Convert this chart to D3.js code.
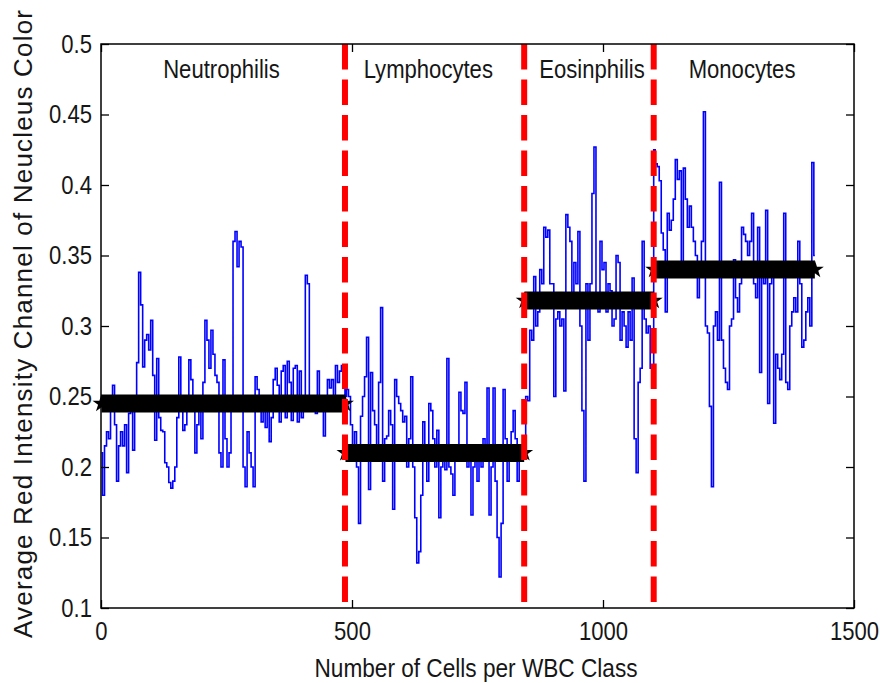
<!DOCTYPE html>
<html>
<head>
<meta charset="utf-8">
<script src="https://cdn.jsdelivr.net/npm/d3@7"></script>
<style>
  html, body { margin: 0; padding: 0; background: #fff; }
  svg { display: block; }
  text { font-family: "Liberation Sans", Arial, Helvetica, sans-serif; fill: #161616; }
</style>
</head>
<body>
<svg id="chart" width="880" height="683"></svg>
<script>
// WBC classes, how many cells each holds, and the class mean of the red channel
const classNames = ["Neutrophilis", "Lymphocytes", "Eosinphilis", "Monocytes"];
const classSizes = [486, 357, 258, 321];
const classMeans = [0.245, 0.210, 0.318, 0.340];

// per-cell averages, one value for every 4th cell of each class
const sampleStep = 4;
const neutrophilValues = [
  0.21, 0.18, 0.215, 0.225, 0.22, 0.24, 0.258, 0.23, 0.19, 0.215,
  0.225, 0.215, 0.23, 0.196, 0.238, 0.245, 0.212, 0.25, 0.274, 0.338,
  0.315, 0.271, 0.29, 0.294, 0.283, 0.304, 0.265, 0.219, 0.277, 0.235,
  0.226, 0.225, 0.203, 0.2, 0.189, 0.185, 0.19, 0.2, 0.235, 0.278,
  0.25, 0.226, 0.23, 0.245, 0.276, 0.262, 0.24, 0.21, 0.23, 0.24,
  0.22, 0.26, 0.304, 0.29, 0.27, 0.297, 0.28, 0.265, 0.26, 0.21,
  0.2, 0.276, 0.22, 0.2, 0.21, 0.25, 0.36, 0.367, 0.342, 0.36,
  0.356, 0.2, 0.186, 0.225, 0.21, 0.2, 0.186, 0.264, 0.255, 0.245,
  0.232, 0.24, 0.228, 0.245, 0.218, 0.235, 0.262, 0.27, 0.258, 0.232,
  0.268, 0.272, 0.235, 0.275, 0.26, 0.233, 0.27, 0.272, 0.232, 0.268,
  0.235, 0.25, 0.336, 0.33, 0.245, 0.242, 0.25, 0.238, 0.268, 0.24,
  0.25, 0.222, 0.248, 0.262, 0.256, 0.262, 0.25, 0.272, 0.26, 0.268,
  0.272, 0.262
];
const lymphocyteValues = [
  0.25, 0.255, 0.25, 0.23, 0.214, 0.225, 0.2, 0.16, 0.236, 0.25,
  0.264, 0.292, 0.184, 0.267, 0.24, 0.23, 0.21, 0.26, 0.313, 0.19,
  0.22, 0.222, 0.24, 0.23, 0.17, 0.262, 0.25, 0.245, 0.24, 0.232,
  0.236, 0.2, 0.22, 0.264, 0.2, 0.164, 0.132, 0.14, 0.18, 0.232,
  0.21, 0.19, 0.245, 0.24, 0.22, 0.2, 0.226, 0.164, 0.2, 0.205,
  0.198, 0.277, 0.2, 0.195, 0.18, 0.205, 0.215, 0.253, 0.24, 0.238,
  0.26, 0.2, 0.21, 0.166, 0.2, 0.215, 0.19, 0.21, 0.2, 0.22,
  0.21, 0.256, 0.166, 0.2, 0.256, 0.19, 0.15, 0.122, 0.16, 0.255,
  0.22, 0.19, 0.21, 0.225, 0.24, 0.22, 0.19, 0.215, 0.21
];
const eosinophilValues = [
  0.22, 0.25, 0.247, 0.297, 0.29, 0.335, 0.3, 0.31, 0.34, 0.33,
  0.37, 0.363, 0.368, 0.33, 0.33, 0.25, 0.305, 0.31, 0.3, 0.305,
  0.254, 0.379, 0.37, 0.36, 0.32, 0.345, 0.33, 0.367, 0.3, 0.24,
  0.19, 0.33, 0.29, 0.33, 0.394, 0.427, 0.32, 0.31, 0.36, 0.34,
  0.345, 0.31, 0.33, 0.325, 0.3, 0.305, 0.35, 0.345, 0.29, 0.31,
  0.3, 0.285, 0.31, 0.29, 0.334, 0.22, 0.196, 0.26, 0.27, 0.36,
  0.305, 0.295, 0.3, 0.27, 0.265
];
const monocyteValues = [
  0.425, 0.415, 0.413, 0.403, 0.366, 0.354, 0.31, 0.38, 0.368, 0.375,
  0.39, 0.418, 0.404, 0.41, 0.34, 0.412, 0.39, 0.37, 0.385, 0.37,
  0.36, 0.35, 0.32, 0.345, 0.36, 0.452, 0.3, 0.295, 0.243, 0.186,
  0.3, 0.31, 0.29, 0.402, 0.29, 0.27, 0.26, 0.255, 0.3, 0.305,
  0.347, 0.32, 0.31, 0.33, 0.37, 0.365, 0.36, 0.35, 0.36, 0.38,
  0.33, 0.32, 0.37, 0.267, 0.34, 0.33, 0.382, 0.245, 0.33, 0.34,
  0.231, 0.28, 0.27, 0.262, 0.28, 0.38, 0.26, 0.255, 0.3, 0.31,
  0.32, 0.31, 0.36, 0.33, 0.285, 0.29, 0.31, 0.32, 0.3, 0.416,
  0.35
];
const classValues = [neutrophilValues, lymphocyteValues, eosinophilValues, monocyteValues];

const xTicks = [0, 500, 1000, 1500];
const yTicks = [0.1, 0.15, 0.2, 0.25, 0.3, 0.35, 0.4, 0.45, 0.5];
const xTitle = "Number of Cells per WBC Class";
const yTitle = "Average Red Intensity Channel of Neucleus Color";

// ---- layout ----
const plot = { left: 101, right: 854, top: 44, bottom: 608 };
const labelCellX = [240, 652, 978, 1277];   // where each class name sits, in cell units
const textScaleX = 0.85;                     // narrow lettering

const svg = d3.select("#chart");
const x = d3.scaleLinear().domain([0, 1500]).range([plot.left, plot.right]);
const y = d3.scaleLinear().domain([0.1, 0.5]).range([plot.bottom, plot.top]);

// cumulative class boundaries in cell numbers
const starts = [0];
classSizes.forEach((n, i) => starts.push(starts[i] + n));

// every sampled cell as {cell, value}
const points = [];
classValues.forEach((vals, k) => {
  vals.forEach((v, i) => points.push({ cell: starts[k] + 1 + i * sampleStep, value: v }));
});

// per-cell trace
svg.append("path")
  .datum(points)
  .attr("fill", "none")
  .attr("stroke", "#0000ff")
  .attr("stroke-width", 1.6)
  .attr("d", d3.line().curve(d3.curveStep).x(d => x(d.cell)).y(d => y(d.value)));

// class mean bands
const bands = svg.append("g");
classMeans.forEach((m, k) => {
  const x0 = x(starts[k] + 1), x1 = x(starts[k + 1]);
  bands.append("line")
    .attr("x1", x0).attr("x2", x1)
    .attr("y1", y(m)).attr("y2", y(m))
    .attr("stroke", "#000").attr("stroke-width", 18);
  [x0, x1].forEach(cx => {
    bands.append("path")
      .attr("d", d3.symbol(d3.symbolStar, 100)())
      .attr("transform", `translate(${cx},${y(m)})`)
      .attr("fill", "#000");
  });
});

// dashed class boundaries
svg.append("g").selectAll("line")
  .data(starts.slice(1, classSizes.length))
  .join("line")
  .attr("x1", d => x(d)).attr("x2", d => x(d))
  .attr("y1", y(0.5)).attr("y2", y(0.1))
  .attr("stroke", "#ff0000")
  .attr("stroke-width", 6)
  .attr("stroke-dasharray", "25.5,10");

// frame
svg.append("rect")
  .attr("x", plot.left).attr("y", plot.top)
  .attr("width", plot.right - plot.left).attr("height", plot.bottom - plot.top)
  .attr("fill", "none").attr("stroke", "#000").attr("stroke-width", 1.5);

// axes with inward ticks on all four sides
function styleAxis(g) {
  g.select(".domain").remove();
  g.selectAll(".tick line").attr("stroke", "#000").attr("stroke-width", 1.3);
  g.selectAll("text").style("font-size", "26px").attr("fill", "#161616");
}
const gx = svg.append("g").attr("transform", `translate(0,${plot.bottom})`)
  .call(d3.axisBottom(x).tickValues(xTicks).tickFormat(d3.format("d"))
    .tickSizeInner(-8).tickSizeOuter(0).tickPadding(14))
  .call(styleAxis);
gx.selectAll("text").attr("transform", `scale(${textScaleX},1)`);

const gy = svg.append("g").attr("transform", `translate(${plot.left},0)`)
  .call(d3.axisLeft(y).tickValues(yTicks).tickFormat(d => String(+d.toFixed(2)))
    .tickSizeInner(-8).tickSizeOuter(0).tickPadding(9))
  .call(styleAxis);
gy.selectAll("text")
  .attr("x", -9 / textScaleX)
  .attr("transform", `scale(${textScaleX},1)`);

svg.append("g").attr("transform", `translate(0,${plot.top})`)
  .call(d3.axisTop(x).tickValues(xTicks).tickFormat("").tickSizeInner(-8).tickSizeOuter(0))
  .call(styleAxis);
svg.append("g").attr("transform", `translate(${plot.right},0)`)
  .call(d3.axisRight(y).tickValues(yTicks).tickFormat("").tickSizeInner(-8).tickSizeOuter(0))
  .call(styleAxis);

// class names across the top of the plot
svg.append("g").selectAll("text")
  .data(classNames)
  .join("text")
  .attr("transform", (d, i) => `translate(${x(labelCellX[i])},78) scale(${textScaleX},1)`)
  .attr("text-anchor", "middle")
  .style("font-size", "26px")
  .text(d => d);

// axis titles
svg.append("text")
  .attr("x", 476).attr("y", 677)
  .attr("text-anchor", "middle")
  .attr("textLength", 323)
  .attr("lengthAdjust", "spacingAndGlyphs")
  .style("font-size", "26px")
  .text(xTitle);

svg.append("text")
  .attr("transform", "translate(32,324) rotate(-90)")
  .attr("text-anchor", "middle")
  .attr("textLength", 628)
  .attr("lengthAdjust", "spacing")
  .style("font-size", "26px")
  .text(yTitle);
</script>
</body>
</html>
